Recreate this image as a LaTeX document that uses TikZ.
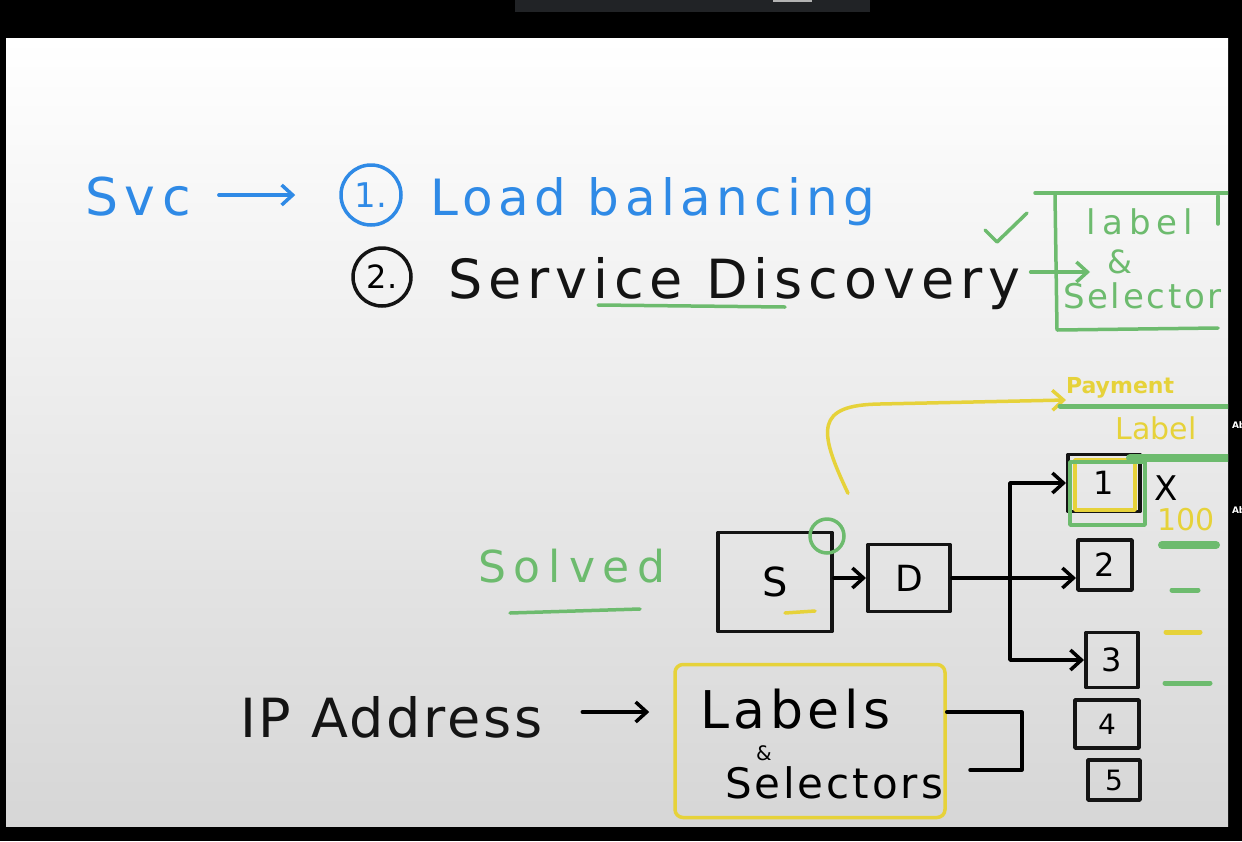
\documentclass[tikz,border=0pt]{standalone}
\usepackage{fontspec}
\setmainfont{DejaVu Sans}
\usetikzlibrary{arrows.meta,positioning}

\definecolor{penblue}{HTML}{2F8AE6}
\definecolor{pengreen}{HTML}{6DBB6E}
\definecolor{penyellow}{HTML}{E6D23A}
\definecolor{penblack}{HTML}{141414}
\definecolor{tabgray}{HTML}{212326}

\newcommand{\hand}[1]{\fontsize{#1}{#1}\selectfont}
\newcommand{\handsp}[2]{\fontsize{#1}{#1}\selectfont\addfontfeature{LetterSpace=#2}}

\begin{document}
\begin{tikzpicture}[x=1pt, y=-1pt,
    pen/.style={line width=3.5pt, line cap=round, line join=round},
    hw/.style={inner sep=0pt, outer sep=0pt},
    arr/.style={-{Straight Barb[length=11pt, width=20pt, line width=3.5pt]}},
    podbox/.style={pen, draw=penblack, minimum width=#1, inner sep=0pt, outer sep=2pt},
    bar/.style={line width=#1, line cap=round, pengreen}]
  \useasboundingbox (0,0) rectangle (1242,841);
  % screen frame
  \fill[black] (0,0) rectangle (1242,841);
  \fill[tabgray] (515,0) rectangle (870,12);
  \fill[gray!60] (773,0) rectangle (812,2);
  \shade[top color=white, middle color=white!96!black, bottom color=white!84!black]
    (6,38) rectangle (1228,826);
  \node[hw, white, font=\bfseries\hand{9}, anchor=west] at (1232,425) {Ab};
  \node[hw, white, font=\bfseries\hand{9}, anchor=west] at (1232,510) {Ab};
  \begin{scope}
  \clip (6,38) rectangle (1228,826);

  % Svc line
  \node[hw, penblue, font=\handsp{52}{13}, anchor=base west] (svc) at (85,215) {Svc};
  \node[pen, draw=penblue, circle, minimum size=60, inner sep=0pt, penblue, font=\hand{34}] (one) at (371,195) {1.};
  \draw[pen, penblue, arr, shorten <=28pt, shorten >=44pt] (svc.east |- one) -- (one.west);
  \node[hw, penblue, font=\handsp{50}{11}, anchor=base west] (lb) at (430,215) {Load balancing};

  \node[pen, draw=penblack, circle, minimum size=58, inner sep=0pt, font=\hand{32}] (two) at (382,277) {2.};
  \node[hw, penblack, font=\handsp{54}{11}, anchor=base west] (disc) at (448,298) {Service Discovery};
  \draw[pen, pengreen] (598,305) -- (785,307);

  % label & selector box
  \draw[pen, pengreen] (985,230) -- (997,242) -- (1027,213);
  \draw[pen, pengreen] (1035,193) -- (1228,193);
  \draw[pen, pengreen] (1055,195) -- (1057,330) -- (1218,328);
  \draw[pen, pengreen] (1218,196) -- (1218,224);
  \node[hw, pengreen, font=\handsp{34}{18}] (lbl) at (1140,222) {label};
  \node[hw, pengreen, font=\hand{32}] (amp) at (1120,262) {\&};
  \node[hw, pengreen, font=\handsp{34}{8}, anchor=west] (sel) at (1063,296) {Selector};
  \coordinate (selin) at (1090,272);
  \draw[pen, pengreen, arr] (disc.east |- selin) ++(10,0) -- (selin);

  % service and deployment
  \node[hw, pengreen, font=\handsp{44}{18}] (solved) at (572,566) {Solved};
  \draw[pen, pengreen] (510,613) -- (640,609);
  \node[podbox=114, minimum height=99, font=\hand{40}] (svcbox) at (775,582) {S};
  \draw[pen, penyellow] (785,613) -- (815,611);
  \node[pen, draw=pengreen, circle, minimum size=34, inner sep=0pt] (dot) at (827,536) {};
  \node[podbox=82, minimum height=67, font=\hand{36}] (dep) at (909,578) {D};
  \draw[pen, arr] (svcbox.east |- dep) -- (dep.west);

  % pods
  \node[podbox=72, minimum height=57, font=\hand{32}] (pod1) at (1104,483) {1};
  \draw[pen, penyellow] (1075,460) rectangle (1135,510);
  \draw[pen, pengreen] (1070,462) rectangle (1145,525);
  \node[hw, font=\hand{34}] (cross) at (1166,488) {X};
  \node[hw, penyellow, font=\hand{30}] (hund) at (1186,520) {100};
  \node[podbox=54, minimum height=50, font=\hand{32}] (pod2) at (1105,565) {2};
  \node[podbox=52, minimum height=55, font=\hand{32}] (pod3) at (1112,660) {3};
  \node[podbox=64, minimum height=48, font=\hand{28}] (pod4) at (1107,724) {4};
  \node[podbox=52, minimum height=40, font=\hand{28}] (pod5) at (1114,780) {5};
  \coordinate (fork) at (1010,578);
  \draw[pen, arr] (dep.east) -- (fork) |- (pod1.west);
  \draw[pen, arr] (fork) -- (pod2.west |- fork);
  \draw[pen, arr] (fork) |- (pod3.west);

  % payment label
  \node[hw, penyellow, font=\bfseries\hand{22}, anchor=west] (pay) at (1066,388) {Payment};
  \node[hw, penyellow, font=\hand{30}] (plabel) at (1156,428) {Label};
  \draw[penyellow, pen, arr] (dot.north) ++(21,-24) .. controls (818,430) and (815,405) .. (880,404) -- (pay.west |- 0,400);
  \draw[bar=5pt] (1060,406) -- (1228,406);
  \draw[bar=8pt] (1130,458) -- (1228,458);
  \draw[bar=8pt] (1162,545) -- (1216,545);
  \draw[bar=5pt] (1172,590) -- (1198,590);
  \draw[bar=5pt, penyellow] (1166,632) -- (1200,632);
  \draw[bar=5pt] (1165,683) -- (1210,683);

  % IP address
  \node[hw, penblack, font=\handsp{54}{5}, anchor=base west] (ip) at (240,737) {IP Address};
  \node[pen, draw=penyellow, rounded corners=8pt, minimum width=270, minimum height=153] (labsel) at (810,741) {};
  \draw[pen, arr, shorten <=40pt, shorten >=24pt] (ip.east |- 0,712) -- (labsel.west |- 0,712);
  \node[hw, font=\handsp{52}{9}, anchor=base west] (labels) at (700,728) {Labels};
  \node[hw, font=\hand{20}] (and) at (764,753) {\&};
  \node[hw, font=\handsp{42}{7}, anchor=base west] (selectors) at (725,798) {Selectors};
  \draw[pen] (labsel.east |- 0,712) -- ++(75,0) |- (970,770);
  \end{scope}
\end{tikzpicture}
\end{document}
